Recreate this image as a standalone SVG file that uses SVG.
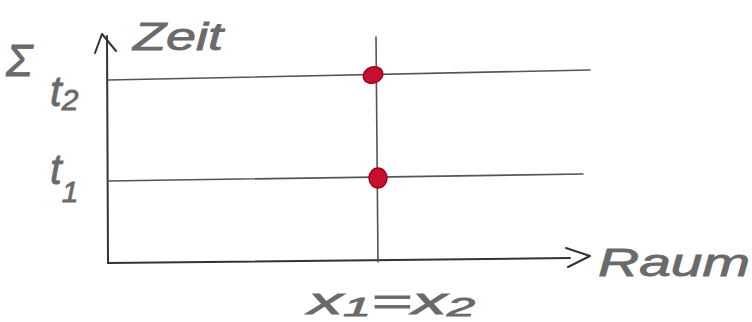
<svg xmlns="http://www.w3.org/2000/svg" width="752" height="322" viewBox="0 0 752 322">
<style>
.ax{stroke:#333;stroke-width:2;fill:none;stroke-linecap:round;stroke-linejoin:round}
.ln{stroke:#555;stroke-width:1.6;fill:none;stroke-linecap:round}
.lb{font-family:"Liberation Sans",sans-serif;font-style:italic;fill:#6a6a6a;stroke:#6a6a6a;stroke-width:0.8}
.dot{fill:#c8102e;stroke:#a00020;stroke-width:1.5}
</style>
<rect width="752" height="322" fill="#ffffff"/>
<g id="connectors">
<path class="ax" d="M107 36 L108 263"/>
<path class="ax" d="M95 53 L102 34 L116 51"/>
<path class="ax" d="M108 263 L570 258"/>
<path class="ax" d="M566 248 L590 256 L568 267"/>
<path class="ln" d="M108 80 L590 70"/>
<path class="ln" d="M108 181 L583 174"/>
<path class="ln" d="M376 37 L378 262"/>
</g>
<g id="event-t2"><ellipse class="dot" cx="373" cy="75" rx="10" ry="8" transform="rotate(-20 373 75)"/></g>
<g id="event-t1"><ellipse class="dot" cx="378" cy="178" rx="9" ry="10"/></g>
<g id="labels">
<text class="lb" x="6" y="76" font-size="44">Σ</text>
<text class="lb" x="133" y="50" font-size="38" textLength="90" lengthAdjust="spacingAndGlyphs">Zeit</text>
<text class="lb" x="50" y="106" font-size="42">t<tspan font-size="30" dy="4">2</tspan></text>
<text class="lb" x="50" y="184" font-size="42">t<tspan font-size="30" dy="18">1</tspan></text>
<text class="lb" x="598" y="276" font-size="38" textLength="152" lengthAdjust="spacingAndGlyphs">Raum</text>
<text class="lb" x="308" y="314" font-size="36" textLength="167" lengthAdjust="spacingAndGlyphs">x<tspan font-size="26" dy="2">1</tspan><tspan dy="-2">=x</tspan><tspan font-size="26" dy="2">2</tspan></text>
</g>
</svg>
